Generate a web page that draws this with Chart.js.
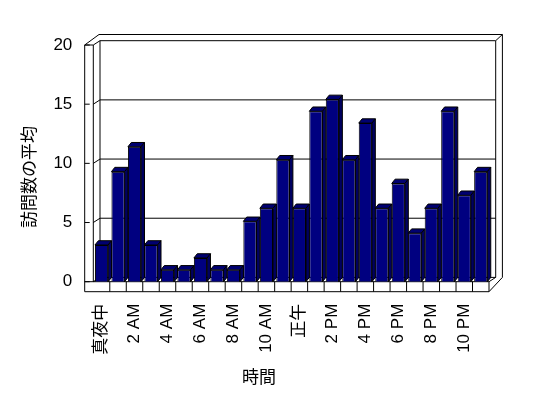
<!DOCTYPE html>
<html>
<head>
<meta charset="utf-8">
<script src="https://cdn.jsdelivr.net/npm/chart.js@4/dist/chart.umd.min.js"></script>
<style>
  html, body { margin: 0; padding: 0; background: #fff; }
  canvas { display: block; }
</style>
</head>
<body>
<canvas id="visits" width="548" height="398"></canvas>
<script>
// hour categories, only every other one gets a tick label
var hours = ['真夜中', '1 AM', '2 AM', '3 AM', '4 AM', '5 AM', '6 AM', '7 AM', '8 AM', '9 AM', '10 AM', '11 AM',
             '正午', '1 PM', '2 PM', '3 PM', '4 PM', '5 PM', '6 PM', '7 PM', '8 PM', '9 PM', '10 PM', '11 PM'];
var visits = [3.1, 9.3, 11.4, 3.1, 1, 1, 2, 1, 1, 5.1, 6.2, 10.3,
              6.2, 14.4, 15.4, 10.3, 13.4, 6.2, 8.3, 4.1, 6.2, 14.4, 7.3, 9.3];
var yTicks = [0, 5, 10, 15, 20];
var yTitle = '訪問数の平均';
var xTitle = '時間';

var FONT = "'Liberation Sans', 'Noto Sans CJK JP', sans-serif";
var WALL = { dx: 6.7, dy: -4.3 };   // depth of the plot box
var BACK = { dx: 6.7, dy: -6.2 };   // thickness of the back wall
var SIDE = 8.6;                     // thickness of the left wall
var FLOOR = 10;                     // height of the floor strip
var BAR = { dx: 3.4, dy: -4.3 };    // depth of each column

function line(ctx, pts) {
    ctx.beginPath();
    ctx.moveTo(pts[0][0], pts[0][1]);
    for (var i = 1; i < pts.length; i++) ctx.lineTo(pts[i][0], pts[i][1]);
    ctx.stroke();
}

var frame3d = {
    id: 'frame3d',
    beforeDatasetsDraw: function (chart) {
        var ctx = chart.ctx, a = chart.chartArea, y = chart.scales.y;
        var x0 = a.left, x1 = a.right, top = a.top, bot = a.bottom;
        ctx.save();
        ctx.strokeStyle = '#000';
        ctx.lineWidth = 1;

        // back wall and its grid lines
        yTicks.forEach(function (v) {
            var py = y.getPixelForValue(v);
            line(ctx, [[x0, py], [x0 + WALL.dx, py + WALL.dy], [x1 + WALL.dx, py + WALL.dy]]);
        });
        line(ctx, [[x0 + WALL.dx, top + WALL.dy], [x0 + WALL.dx, bot + WALL.dy]]);
        line(ctx, [[x1 + WALL.dx, top + WALL.dy], [x1 + WALL.dx, bot + WALL.dy], [x1, bot]]);
        line(ctx, [[x1 + WALL.dx, top + WALL.dy], [x1 + WALL.dx + BACK.dx, top + WALL.dy + BACK.dy]]);

        // outer contour
        line(ctx, [[x0 - SIDE, bot + FLOOR], [x0 - SIDE, top], [x0 + WALL.dx - 1, top + WALL.dy + BACK.dy],
                   [x1 + WALL.dx + BACK.dx, top + WALL.dy + BACK.dy],
                   [x1 + WALL.dx + BACK.dx, bot + WALL.dy],
                   [x1, bot + FLOOR], [x0 - SIDE, bot + FLOOR]]);
        line(ctx, [[x0 - SIDE, top], [x0, top], [x0, bot]]);

        // y tick marks on the left wall
        yTicks.forEach(function (v) {
            var py = y.getPixelForValue(v);
            line(ctx, [[x0 - SIDE, py], [x0 - SIDE + 5, py]]);
        });

        // floor strip with category cells
        line(ctx, [[x0 - SIDE, bot], [x1, bot]]);
        var n = hours.length, w = (x1 - x0) / n;
        for (var i = 1; i <= n; i++) {
            line(ctx, [[x0 + i * w, bot], [x0 + i * w, bot + FLOOR]]);
        }
        ctx.restore();
    },
    afterDatasetsDraw: function (chart) {
        var ctx = chart.ctx;
        var meta = chart.getDatasetMeta(0);
        ctx.save();
        ctx.strokeStyle = '#000';
        ctx.lineWidth = 1;
        meta.data.forEach(function (bar) {
            var p = bar.getProps(['x', 'y', 'base', 'width'], true);
            var l = p.x - p.width / 2, r = p.x + p.width / 2;
            ctx.fillStyle = '#000070';
            ctx.beginPath();
            ctx.moveTo(l, p.y);
            ctx.lineTo(l + BAR.dx, p.y + BAR.dy);
            ctx.lineTo(r + BAR.dx, p.y + BAR.dy);
            ctx.lineTo(r, p.y);
            ctx.closePath();
            ctx.fill();
            ctx.stroke();
            ctx.fillStyle = '#000060';
            ctx.beginPath();
            ctx.moveTo(r, p.y);
            ctx.lineTo(r + BAR.dx, p.y + BAR.dy);
            ctx.lineTo(r + BAR.dx, p.base + BAR.dy);
            ctx.lineTo(r, p.base);
            ctx.closePath();
            ctx.fill();
            ctx.stroke();
        });
        ctx.restore();
    },
    afterDraw: function (chart) {
        var ctx = chart.ctx;
        ctx.save();
        ctx.fillStyle = '#000';
        ctx.font = '17px ' + FONT;
        ctx.textAlign = 'center';
        ctx.textBaseline = 'middle';
        ctx.fillText(xTitle, 259, 378);
        ctx.translate(30, 177);
        ctx.rotate(-Math.PI / 2);
        ctx.fillText(yTitle, 0, 0);
        ctx.restore();
    }
};

var chart = new Chart(document.getElementById('visits'), {
    type: 'bar',
    data: {
        labels: hours,
        datasets: [{
            data: visits,
            backgroundColor: '#000080',
            borderColor: '#000',
            borderWidth: 1,
            barPercentage: 0.8,
            categoryPercentage: 1
        }]
    },
    options: {
        responsive: false,
        animation: false,
        layout: { padding: { top: 45, right: 59, left: 0, bottom: 0 } },
        plugins: { legend: { display: false }, tooltip: { enabled: false } },
        scales: {
            x: {
                grid: { display: false },
                border: { display: false },
                afterFit: function (scale) { scale.height = 398 - 281.7; },
                ticks: {
                    autoSkip: false,
                    minRotation: 90,
                    maxRotation: 90,
                    padding: 14,
                    labelOffset: 0,
                    color: '#000',
                    font: { family: FONT, size: 17 },
                    callback: function (val, i) { return i % 2 === 0 ? hours[i] : ''; }
                }
            },
            y: {
                min: 0,
                max: 20,
                grid: { display: false, drawTicks: false },
                border: { display: false },
                afterFit: function (scale) { scale.width = 93.3; },
                ticks: {
                    stepSize: 5,
                    padding: 21,
                    color: '#000',
                    font: { family: FONT, size: 17 }
                }
            }
        }
    },
    plugins: [frame3d]
});
</script>
</body>
</html>
